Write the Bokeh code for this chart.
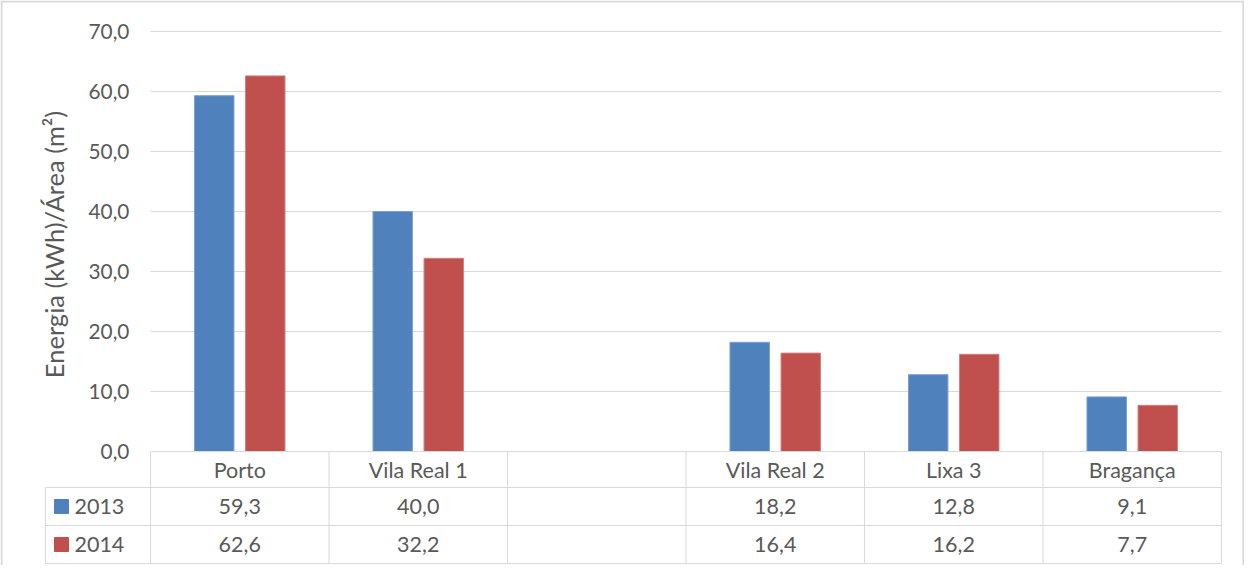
import math
from bokeh.plotting import figure
from bokeh.models import Range1d
from bokeh.core.properties import value
from bokeh.embed import file_html
from bokeh.resources import INLINE

# ---- data ----
categories = ["Porto", "Vila Real 1", "", "Vila Real 2", "Lixa 3", "Bragança"]
series_names = ["2013", "2014"]
values_2013 = [59.3, 40.0, None, 18.2, 12.8, 9.1]
values_2014 = [62.6, 32.2, None, 16.4, 16.2, 7.7]
y_ticks = [0, 10, 20, 30, 40, 50, 60, 70]
y_title = "Energia (kWh)/Área (m²)"

colors = ["#4F81BD", "#C0504D"]
edge_colors = ["#7A9FD0", "#D3807E"]
grid_color = "#D9D9D9"
text_color = "#595959"
FONT = value("Lato")
FS_TICK = "20.8px"
FS_TABLE = "21.5px"
FS_TITLE = "25.5px"

def fmt(v):
    return f"{v:.1f}".replace(".", ",")

# ---- layout (1 x-unit = one category column, 1 y-unit = one value unit) ----
W, H = 1244, 565
ncat = len(categories)
x_start, x_end = -0.8403, 6.129
y_start, y_end = -19.0, 75.167

p = figure(width=W, height=H, output_backend="svg", toolbar_location=None,
           x_range=Range1d(x_start, x_end), y_range=Range1d(y_start, y_end),
           min_border=0, background_fill_color="white", border_fill_color="white")
p.outline_line_color = None
p.xaxis.visible = False
p.yaxis.visible = False
p.xgrid.visible = False
p.ygrid.visible = False

# outer chart border (left, top, right)
p.segment(x0=[x_start + 0.006, x_start, x_end - 0.006], y0=[y_start, y_end - 0.17, y_start],
          x1=[x_start + 0.006, x_end, x_end - 0.006], y1=[y_end, y_end - 0.17, y_end],
          line_color="#D9D9D9", line_width=2)

# gridlines
p.segment(x0=[0] * len(y_ticks), y0=y_ticks, x1=[ncat] * len(y_ticks), y1=y_ticks,
          line_color=grid_color, line_width=1)

# y tick labels
p.text(x=[-0.118] * len(y_ticks), y=y_ticks, text=[fmt(t) for t in y_ticks],
       text_font=FONT, text_font_size=FS_TICK, text_color=text_color,
       text_align="right", text_baseline="middle")

# y axis title
p.text(x=[-0.543], y=[34.5], text=[y_title], angle=math.pi / 2,
       text_font=FONT, text_font_size=FS_TITLE, text_color=text_color,
       text_align="center", text_baseline="middle")

# bars
offsets = [-0.143, 0.143]
bar_w = 0.221
for s, vals in enumerate([values_2013, values_2014]):
    xs = [i + 0.5 + offsets[s] for i, v in enumerate(vals) if v is not None]
    tops = [v for v in vals if v is not None]
    p.vbar(x=xs, top=tops, bottom=0, width=bar_w,
           fill_color=colors[s], line_color=edge_colors[s], line_width=1)

# data table
hdr_bot = -6.0
row_h = 6.333
row_bots = [hdr_bot - row_h, hdr_bot - 2 * row_h]
leg_left = -0.588
table_bottom = row_bots[-1]

hx0 = [0, leg_left, leg_left, leg_left]
hy = [0, hdr_bot, row_bots[0], row_bots[1]]
p.segment(x0=hx0, y0=hy, x1=[ncat] * 4, y1=hy, line_color=grid_color, line_width=1)
vx = [leg_left] + list(range(ncat + 1))
vy0 = [hdr_bot] + [0] * (ncat + 1)
p.segment(x0=vx, y0=vy0, x1=vx, y1=[table_bottom] * len(vx), line_color=grid_color, line_width=1)

# header
p.text(x=[i + 0.5 for i in range(ncat)], y=[hdr_bot / 2] * ncat, text=categories,
       text_font=FONT, text_font_size=FS_TABLE, text_color=text_color,
       text_align="center", text_baseline="middle")

row_centers = [hdr_bot - row_h / 2, hdr_bot - 1.5 * row_h]
for s, vals in enumerate([values_2013, values_2014]):
    yc = row_centers[s]
    p.scatter(x=[-0.4986], y=[yc], marker="square", size=14,
              fill_color=colors[s], line_color=colors[s])
    p.text(x=[-0.426], y=[yc], text=[series_names[s]],
           text_font=FONT, text_font_size=FS_TABLE, text_color=text_color,
           text_align="left", text_baseline="middle")
    xs = [i + 0.5 for i, v in enumerate(vals) if v is not None]
    ts = [fmt(v) for v in vals if v is not None]
    p.text(x=xs, y=[yc] * len(xs), text=ts,
           text_font=FONT, text_font_size=FS_TABLE, text_color=text_color,
           text_align="center", text_baseline="middle")

open("out.html", "w").write(file_html(p, INLINE))
